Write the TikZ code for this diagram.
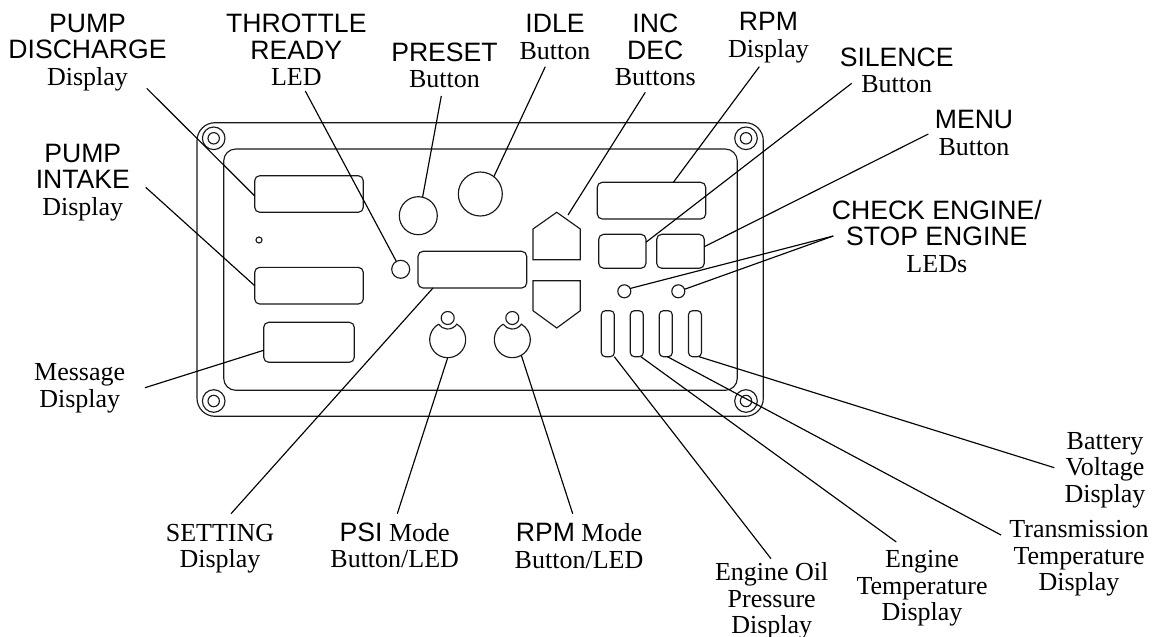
\documentclass[tikz,border=0pt]{standalone}
\usepackage{fontspec}
\setmainfont{Liberation Serif}
\setsansfont{Liberation Sans}
\newcommand{\capt}[1]{{\fontsize{26.6}{26.5}\sffamily #1}}
\newcommand{\labnode}[4]{\node[labeltxt] (#1) at (#2,#3-20) {\rule{0pt}{20pt}#4};}
\tikzset{
  ln/.style={line width=1.15pt,black!90},
  labeltxt/.style={anchor=north,inner sep=0pt,outer sep=0pt,align=center,font=\fontsize{26}{26.5}\selectfont},
  panelbox/.style={ln,draw,inner sep=0pt,outer sep=0pt},
  dispbox/.style={panelbox,rounded corners=5pt},
  barbox/.style={panelbox,rounded corners=4pt,minimum width=13pt,minimum height=46pt},
  ring/.style={panelbox,circle},
  holder/.style={circle,inner sep=0pt,outer sep=0pt,minimum size=36pt},
  leader/.style={line width=1.15pt,black},
  modeshape/.pic={
    \draw[ln,x=1pt,y=1pt] (120.4:18) arc[start angle=120.4,end angle=419.6,radius=18]
      arc[start angle=325.9,end angle=214.1,radius=11];
  }
}
\begin{document}
\begin{tikzpicture}[x=1pt,y=-1pt]
\useasboundingbox (0,0) rectangle (1157,637);
% panel
\node[panelbox,rounded corners=18pt,minimum width=566.3pt,minimum height=293.6pt] (outer) at (480.15,269.5) {};
\node[panelbox,rounded corners=12pt,minimum width=513.6pt,minimum height=241.3pt] (inner) at (480.5,269.65) {};
% screws
\foreach \n/\x/\y in {tl/213.7/138.3,bl/213.7/401,tr/746/138.3,br/746/401}{
  \node[ring,minimum size=22.6pt] (screwo\n) at (\x,\y) {};
  \node[ring,minimum size=11.4pt] (screwi\n) at (\x,\y) {};
}
% displays
\node[dispbox,minimum width=108.6pt,minimum height=36.6pt] (disch) at (309,194) {};
\node[dispbox,minimum width=108.6pt,minimum height=36.7pt] (intake) at (309,285.7) {};
\node[dispbox,minimum width=90.6pt,minimum height=40pt] (msg) at (309,342.3) {};
\node[dispbox,minimum width=108.7pt,minimum height=36.7pt] (setting) at (472.35,269.65) {};
\node[dispbox,minimum width=108.4pt,minimum height=36.7pt] (rpmd) at (651.5,200.65) {};
\node[dispbox,minimum width=47.3pt,minimum height=34pt] (silence) at (622.35,251.3) {};
\node[dispbox,minimum width=47.6pt,minimum height=34pt] (menu) at (680.5,251.3) {};
% round parts
\node[ring,minimum size=6pt] (hole) at (259,240) {};
\node[ring,minimum size=38pt] (preset) at (418.3,215.7) {};
\node[ring,minimum size=44pt] (idle) at (480.3,194) {};
\node[ring,minimum size=18pt] (tready) at (400.7,269.3) {};
\node[ring,minimum size=13pt] (led1) at (624.3,291.3) {};
\node[ring,minimum size=13pt] (led2) at (678.3,291.3) {};
% mode buttons
\node[ring,minimum size=13pt] (psiled) at (447.7,318) {};
\node[ring,minimum size=13pt] (rpmled) at (512.3,318) {};
\node[holder] (psib) at (447.7,339.7) {};
\node[holder] (rpmb) at (512.3,339.7) {};
\pic at (psib) {modeshape};
\pic at (rpmb) {modeshape};
% inc / dec
\draw[ln] (533,259.7) -- (533,229) -- (556.7,212.3) -- (580.3,229) -- (580.3,259.7) -- cycle;
\draw[ln] (533,280.7) -- (580.3,280.7) -- (580.3,310.7) -- (556.7,328) -- (533,310.7) -- cycle;
\coordinate (incend) at (568,215);
% bars
\node[barbox] (bar1) at (607.8,333.7) {};
\node[barbox] (bar2) at (636.8,333.7) {};
\node[barbox] (bar3) at (665.8,333.7) {};
\node[barbox] (bar4) at (695,333.7) {};
% labels
\labnode{lpd}{87.5}{32.3}{\capt{PUMP}\\\capt{DISCHARGE}\\Display}
\labnode{lpi}{82.8}{162.3}{\capt{PUMP}\\\capt{INTAKE}\\Display}
\labnode{ltr}{296.3}{32.7}{\capt{THROTTLE}\\\capt{READY}\\LED}
\labnode{lpr}{444.5}{61}{\capt{PRESET}\\Button}
\labnode{lid}{555}{32.7}{\capt{IDLE}\\Button}
\labnode{lin}{655.3}{32.7}{\capt{INC}\\\capt{DEC}\\Buttons}
\labnode{lrp}{768.5}{30.7}{\capt{RPM}\\Display}
\labnode{lsi}{896.7}{66}{\capt{SILENCE}\\Button}
\labnode{lme}{974}{128.7}{\capt{MENU}\\Button}
\labnode{lch}{936.8}{219}{\capt{CHECK ENGINE/}\\\capt{STOP ENGINE}\\LEDs}
\labnode{lms}{79.7}{380.7}{Message\\Display}
\labnode{lse}{220}{541}{SETTING\\Display}
\labnode{lps}{394.7}{541.3}{\capt{PSI} Mode\\Button/LED}
\labnode{lrm}{579}{541.7}{\capt{RPM} Mode\\Button/LED}
\labnode{loi}{771.7}{580.7}{Engine Oil\\Pressure\\Display}
\labnode{lte}{922}{567.7}{Engine\\Temperature\\Display}
\labnode{ltx}{1079}{537.7}{Transmission\\Temperature\\Display}
\labnode{lba}{1105}{449}{Battery\\Voltage\\Display}
% free ends
\coordinate (e1) at (146.7,88.3);
\coordinate (e2) at (145.7,187.3);
\coordinate (e3) at (305.3,91);
\coordinate (e4) at (441.3,96);
\coordinate (e5) at (545.3,66.7);
\coordinate (e6) at (645.3,92.3);
\coordinate (e7) at (759.3,66.7);
\coordinate (e8) at (851.7,83.3);
\coordinate (e9) at (928.3,134);
\coordinate (e10) at (833.3,236);
\coordinate (e11) at (145,387.7);
\coordinate (e12) at (231,513.7);
\coordinate (e13) at (397.3,513.7);
\coordinate (e14) at (572.7,513.7);
\coordinate (e15) at (771,558.7);
\coordinate (e16) at (896.3,542);
\coordinate (e17) at (1001,535);
\coordinate (e18) at (1054.3,467.7);
% leaders
\draw[leader] (e1) -- (disch.182);
\draw[leader] (e2) -- (intake.west);
\draw[leader] (e3) -- (tready.119);
\draw[leader] (e4) -- (preset.77);
\draw[leader] (e5) -- (idle.52);
\draw[leader] (e6) -- (incend);
\draw[leader] (e7) -- (rpmd.40);
\draw[leader] (e8) -- (silence.21);
\draw[leader] (e9) -- (menu.11);
\draw[leader] (e10) -- (led1.26);
\draw[leader] (e10) -- (led2.18);
\draw[leader] (e11) -- (msg.190.6);
\draw[leader] (e12) -- (setting.205);
\draw[leader] (e13) -- (psib.south);
\draw[leader] (e14) -- (rpmb.300);
\draw[leader] (e15) -- (bar1.south east);
\draw[leader] (e16) -- (bar2.280);
\draw[leader] (e17) -- (bar3.274);
\draw[leader] (e18) -- (bar4.280);
\end{tikzpicture}
\end{document}
